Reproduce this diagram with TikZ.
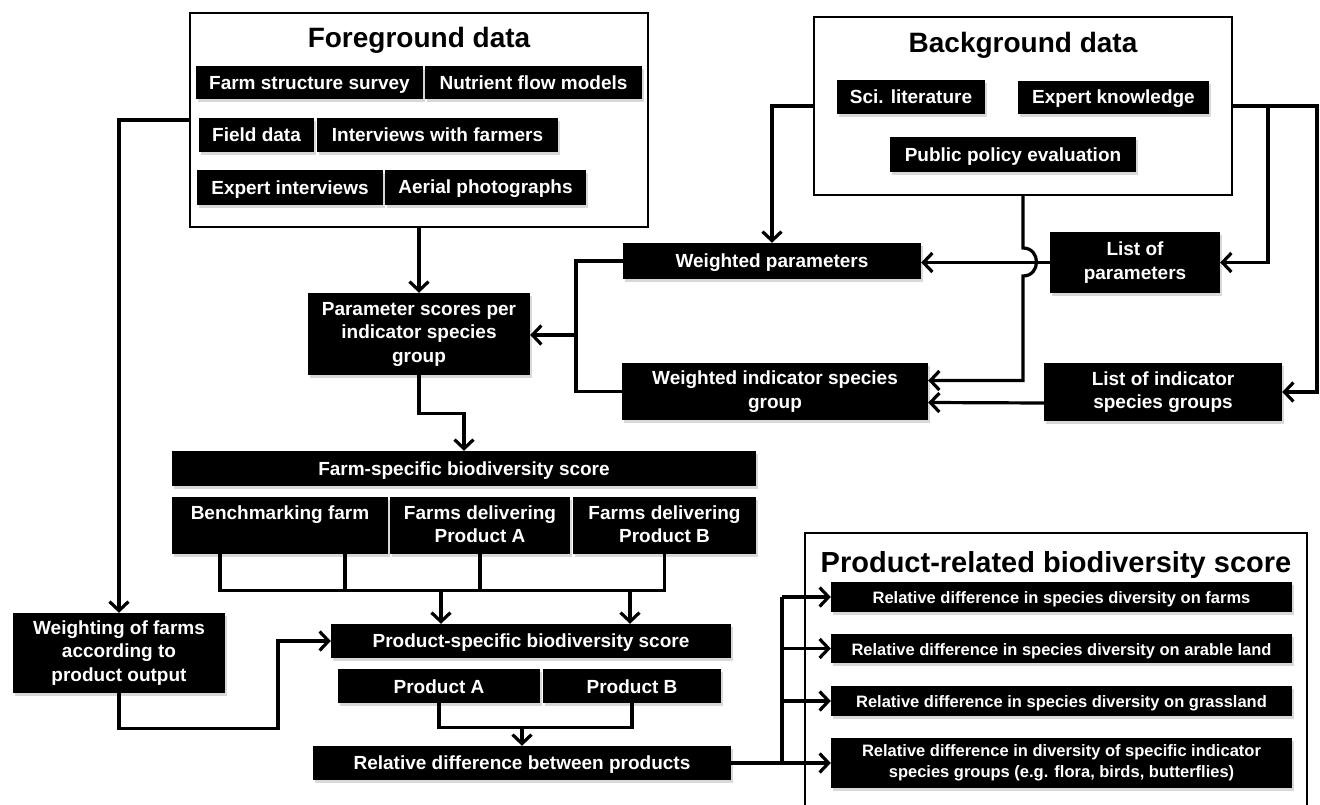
\documentclass[tikz,border=0pt]{standalone}
\usepackage{fontspec}
\setmainfont{Liberation Sans}
\usetikzlibrary{arrows.meta,shadows}

\newcommand{\mkbox}[7][]{%
  \node[blk,#1,minimum width={(#5-#3)*1pt},minimum height={(#6-#4)*1pt}] (#2) at ({(#3+#5)/2},{(#4+#6)/2}) {#7};}
\newcommand{\mkframe}[5]{%
  \node[frm,minimum width={(#4-#2)*1pt},minimum height={(#5-#3)*1pt}] (#1) at ({(#2+#4)/2},{(#3+#5)/2}) {};}
\newcommand{\bigstrut}{\rule[-3pt]{0pt}{20pt}}
\newcommand{\smlstrut}{\rule[-2.8pt]{0pt}{17.6pt}}

\tikzset{
  blk/.style={fill=black, text=white, inner sep=0pt, align=center,
    font=\bfseries\fontsize{19}{23.5}\selectfont,
    execute at begin node=\bigstrut, execute at end node=\bigstrut,
    drop shadow={shadow xshift=2pt, shadow yshift=-3pt, opacity=0.3}},
  sml/.style={font=\bfseries\fontsize{16.5}{21}\selectfont,
    execute at begin node=\smlstrut, execute at end node=\smlstrut},
  frm/.style={draw=black, line width=2pt, fill=white, inner sep=0pt},
  ttl/.style={font=\bfseries\fontsize{28}{32}\selectfont, anchor=base, inner sep=0pt},
  conn/.style={line width=3.2pt, line join=miter},
  arr/.style={conn, -{Straight Barb[length=9pt,width=19pt,line width=3.2pt]}}
}

\begin{document}
\begin{tikzpicture}[x=1pt,y=-1pt]
\useasboundingbox (0,0) rectangle (1320,805);
\fill[white] (0,0) rectangle (1320,805);

% Foreground data
\mkframe{fg}{190}{13}{648}{227}
\node[ttl] (fgt) at (419,48) {Foreground data};
\mkbox{fss}{196}{66}{423}{99}{Farm structure survey}
\mkbox{nfm}{425}{66}{642}{99}{Nutrient flow models}
\mkbox{fd}{199}{118}{314}{152}{Field data}
\mkbox{iwf}{317}{118}{558}{152}{Interviews with farmers}
\mkbox{ei}{197}{170}{383}{205}{Expert interviews}
\mkbox{ap}{385}{170}{586}{205}{Aerial photographs}

% Background data
\mkframe{bg}{814}{17}{1232}{195}
\node[ttl] (bgt) at (1023,53) {Background data};
\mkbox{sci}{837}{80}{985}{114}{Sci. literature}
\mkbox{ek}{1018}{81}{1209}{114}{Expert knowledge}
\mkbox{ppe}{890}{137}{1136}{172}{Public policy evaluation}

% middle
\mkbox{wp}{623}{243}{921}{279}{Weighted parameters}
\mkbox{lp}{1050}{232}{1220}{293}{List of\\parameters}
\mkbox{ps}{308}{293}{530}{375}{Parameter scores per\\indicator species\\group}
\mkbox{wi}{622}{363}{928}{420}{Weighted indicator species\\group}
\mkbox{li}{1044}{363}{1282}{421}{List of indicator\\species groups}

% farm-specific
\mkbox{fs}{172}{451}{756}{486}{Farm-specific biodiversity score}
\mkbox{bf}{172}{497}{388}{554}{Benchmarking farm\\\mbox{}}
\mkbox{fa}{390}{497}{570}{554}{Farms delivering\\Product A}
\mkbox{fb}{573}{497}{756}{554}{Farms delivering\\Product B}

% product-specific
\mkbox{wf}{13}{613}{225}{693}{Weighting of farms\\according to\\product output}
\mkbox{psb}{331}{624}{731}{658}{Product-specific biodiversity score}
\mkbox{pa}{338}{669}{540}{703}{Product A}
\mkbox{pb}{543}{669}{721}{703}{Product B}
\mkbox{rd}{313}{746}{731}{780}{Relative difference between products}

% product-related
\mkframe{pr}{805}{533}{1307}{840}
\node[ttl, font=\bfseries\fontsize{29}{33}\selectfont] (prt) at (1056,572) {Product-related biodiversity score};
\mkbox[sml]{r1}{831}{582}{1292}{612}{Relative difference in species diversity on farms}
\mkbox[sml]{r2}{831}{634}{1292}{663}{Relative difference in species diversity on arable land}
\mkbox[sml]{r3}{831}{686}{1292}{716}{Relative difference in species diversity on grassland}
\mkbox[sml]{r4}{831}{738}{1292}{788}{Relative difference in diversity of specific indicator\\species groups (e.g. flora, birds, butterflies)}

% helper coordinates
\coordinate (bx) at (576,335);
\coordinate (h1) at (441,590);
\coordinate (h2) at (630,590);
\coordinate (vx) at (782,0);

% connectors
\draw[arr] (fg.west) -| (wf.north);
\draw[arr] (fg.south) -- (ps.north);
\draw[arr] (bg.west) -| (wp.north);
\draw[arr] (bg.east) -- ++(84,0) |- (li.east);
\draw[arr] ([xshift=35pt]bg.east) |- (lp.east);
\draw[arr] (lp.west) -- (lp.west -| wp.east);
\draw[arr] (bg.south) -- (1023,248) .. controls (1041,248) and (1041,276) .. (1023,276) -- (1023,380.5) -- ([yshift=11pt]wi.east);
\draw[arr] ([yshift=-11pt]li.west) -- ([yshift=-11pt]wi.east);
\draw[conn] (wp.west) -| (bx) |- (wi.west);
\draw[arr] (bx) -- (bx -| ps.east);
\draw[arr] (ps.south) -- ++(0,38) -| (fs.north);

\draw[conn] ([xshift=-60pt]bf.south) -- ++(0,36) -| (fb.south);
\draw[conn] ([xshift=65pt]bf.south) -- ++(0,36);
\draw[conn] (fa.south) -- ++(0,36);
\draw[arr] (h1) -- (h1 |- psb.north);
\draw[arr] (h2) -- (h2 |- psb.north);

\draw[arr] (wf.south) -- ++(0,35) -- ++(159,0) |- (psb.west);
\draw[conn] (pa.south) -- ++(0,24) -| (pb.south);
\draw[arr] ([yshift=19pt]rd.north) -- (rd.north);

\draw[arr] (rd.east) -- (r4.west);
\draw[conn] (vx |- r1.west) -- (vx |- r4.west);
\draw[arr] (vx |- r1.west) -- (r1.west);
\draw[arr] (vx |- r2.west) -- (r2.west);
\draw[arr] (vx |- r3.west) -- (r3.west);
\end{tikzpicture}
\end{document}
